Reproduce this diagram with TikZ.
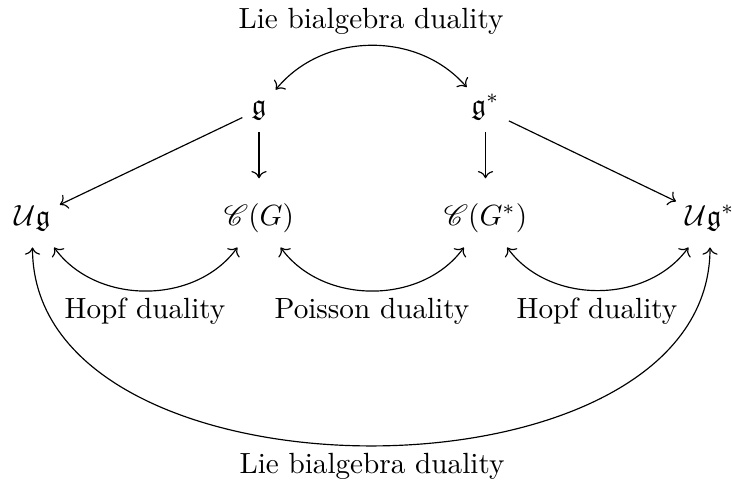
\documentclass[tikz,border=0pt]{standalone}
\usepackage{amssymb}
\usepackage{mathrsfs}
\usetikzlibrary{arrows.meta}
\begin{document}
\begin{tikzpicture}[x={(0.34247pt,0pt)}, y={(0pt,-0.34247pt)},
  >={Computer Modern Rightarrow},
  obj/.style={anchor=base, inner xsep=3pt},
  toprow/.style={obj, inner ysep=4pt, text height=5pt, text depth=2pt},
  botrow/.style={obj, inner ysep=5pt, text height=7.5pt, text depth=2.5pt},
  lbl/.style={anchor=base, inner sep=0pt},
  arr/.style={->, line width=0.4pt},
  dbl/.style={<->, line width=0.4pt}]
\useasboundingbox (0,0) rectangle (732,479);
% objects
\node[toprow] (g)   at (259,114)   {$\mathfrak{g}$};
\node[toprow] (gs)  at (485.5,114) {$\mathfrak{g}^*$};
\node[botrow] (Ug)  at (32.5,225)  {$\mathcal{U}\mathfrak{g}$};
\node[botrow] (CG)  at (259,225)   {$\mathscr{C}(G)$};
\node[botrow] (CGs) at (485.5,225) {$\mathscr{C}(G^*)$};
\node[botrow] (Ugs) at (710,225)   {$\mathcal{U}\mathfrak{g}^*$};
% labels
\node[lbl] (ltop) at (371,28)  {Lie bialgebra duality};
\node[lbl] (hl)   at (145,318) {Hopf duality};
\node[lbl] (pl)   at (372,318) {Poisson duality};
\node[lbl] (hr)   at (597,318) {Hopf duality};
\node[lbl] (lbot) at (372,473) {Lie bialgebra duality};
% straight arrows
\draw[arr] (g) -- (Ug);
\draw[arr, shorten >=3.3pt] (g) -- (CG);
\draw[arr, shorten >=3.3pt] (gs) -- (CGs);
\draw[arr] (gs) -- (Ugs);
% dualities
\draw[dbl] (g) to[bend left=50] (gs);
\draw[dbl] (Ug) to[bend right=54] (CG);
\draw[dbl] (CG) to[bend right=54] (CGs);
\draw[dbl] (CGs) to[bend right=54] (Ugs);
\draw[dbl] (Ug) to[out=-90, in=-90, looseness=1] (Ugs);
\end{tikzpicture}
\end{document}
